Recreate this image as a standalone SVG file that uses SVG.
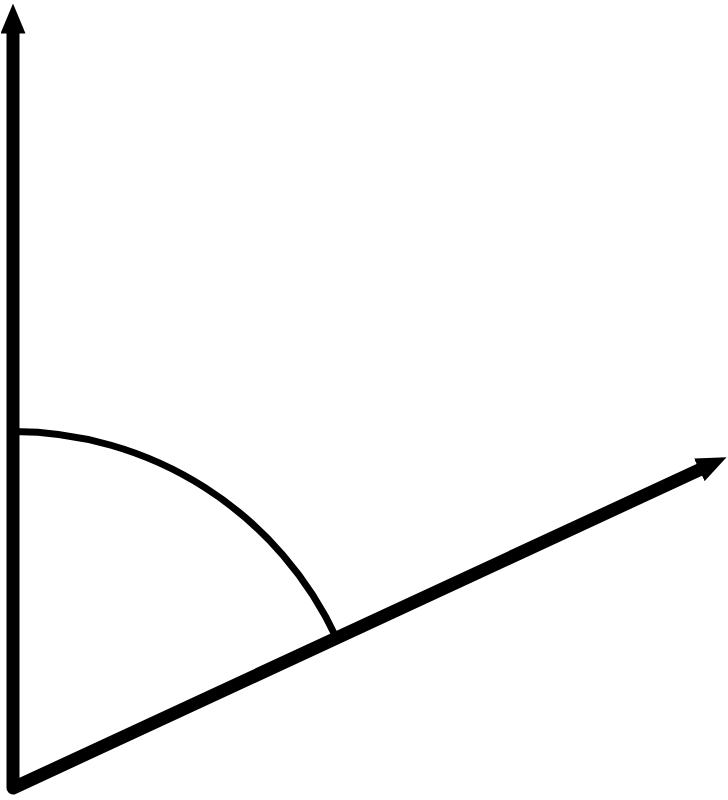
<svg xmlns="http://www.w3.org/2000/svg" width="728" height="800" viewBox="0 0 728 800">
<style>
.axis{fill:none;stroke:#000;stroke-width:13;stroke-linejoin:round;stroke-linecap:butt}
.arc{fill:none;stroke:#000;stroke-width:7}
</style>
<defs>
<marker id="head" viewBox="0 0 30 25" markerWidth="30" markerHeight="25" refX="0.5" refY="12.5" orient="auto-start-reverse" markerUnits="userSpaceOnUse">
<path d="M0,0 L30,12.5 L0,25 z" fill="#000"/>
</marker>
</defs>
<rect width="728" height="800" fill="#fff"/>
<g id="connectors">
<path class="axis" d="M13,33 L13,788 L699.8,469.6" marker-start="url(#head)" marker-end="url(#head)"/>
<path id="angle-arc" class="arc" d="M13,431.5 A356.5,356.5 0 0 1 336.6,638.4"/>
</g>
</svg>
